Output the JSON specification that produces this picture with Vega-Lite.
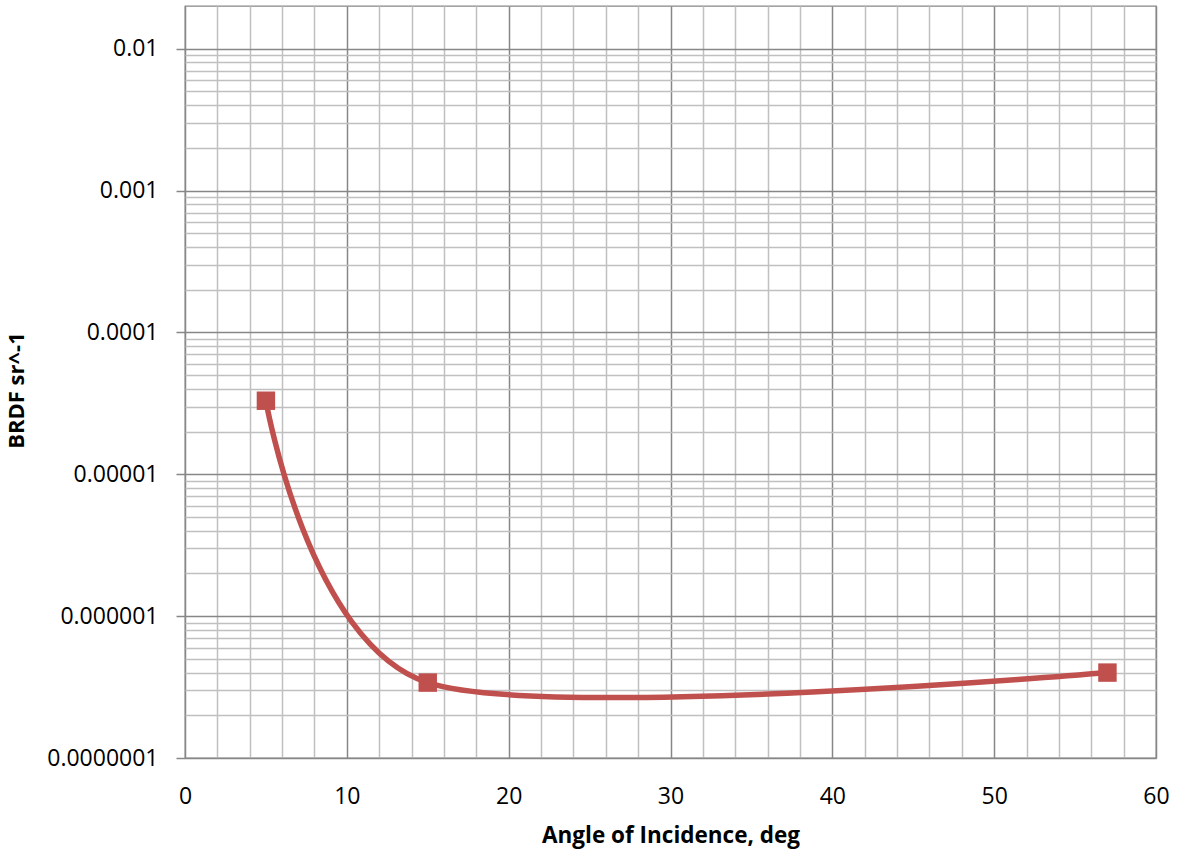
{
  "$schema": "https://vega.github.io/schema/vega-lite/v6.json",
  "width": 971,
  "height": 752,
  "autosize": "none",
  "padding": {"left": 185, "top": 6, "right": 22, "bottom": 94},
  "background": "white",
  "config": {
    "view": {"stroke": "#878787", "strokeWidth": 1.3},
    "font": "Open Sans",
    "axis": {"domain": false, "labelFont": "Open Sans", "titleFont": "Open Sans", "labelColor": "#000000", "titleColor": "#000000", "labelOverlap": false}
  },
  "data": {
    "values": [
      {"angle": 5, "brdf": 3.3e-5},
      {"angle": 15, "brdf": 3.4e-7},
      {"angle": 57, "brdf": 4.0e-7}
    ]
  },
  "layer": [
    {
      "mark": {"type": "line", "interpolate": "cardinal", "tension": 0.15, "color": "#C0504D", "strokeWidth": 5.5},
      "encoding": {
        "x": {
          "field": "angle",
          "type": "quantitative",
          "scale": {"domain": [0, 60], "nice": false, "zero": false},
          "axis": {
            "title": "Angle of Incidence, deg",
            "values": [0,2,4,6,8,10,12,14,16,18,20,22,24,26,28,30,32,34,36,38,40,42,44,46,48,50,52,54,56,58,60],
            "tickCount": 200,
            "format": "d",
            "labelExpr": "datum.value % 10 === 0 ? format(datum.value, 'd') : ''",
            "labelOverlap": false,
            "ticks": false,
            "labelPadding": 27,
            "labelFontSize": 23,
            "labelFlush": false,
            "gridColor": {"condition": {"test": "datum.value % 10 === 0", "value": "#878787"}, "value": "#c0c0c0"},
            "gridWidth": 1.5,
            "titleFontSize": 22.5,
            "titleFontWeight": "bold",
            "titlePadding": 16
          }
        },
        "y": {
          "field": "brdf",
          "type": "quantitative",
          "scale": {"type": "log", "domain": [1e-7, 0.02], "nice": false},
          "axis": {
            "title": "BRDF sr^-1",
            "values": [1e-7,2e-7,3e-7,4e-7,5e-7,6e-7,7e-7,8e-7,9e-7,1e-6,2e-6,3e-6,4e-6,5e-6,6e-6,7e-6,8e-6,9e-6,1e-5,2e-5,3e-5,4e-5,5e-5,6e-5,7e-5,8e-5,9e-5,1e-4,2e-4,3e-4,4e-4,5e-4,6e-4,7e-4,8e-4,9e-4,1e-3,2e-3,3e-3,4e-3,5e-3,6e-3,7e-3,8e-3,9e-3,1e-2],
            "tickCount": 200,
            "labelExpr": "abs(log(datum.value)/LN10 - round(log(datum.value)/LN10)) < 0.001 ? format(datum.value, '.7~f') : ''",
            "labelOverlap": false,
            "tickSize": 9,
            "tickColor": "#878787",
            "tickWidth": 1.5,
            "tickOpacity": {"condition": {"test": "abs(log(datum.value)/LN10 - round(log(datum.value)/LN10)) < 0.001", "value": 1}, "value": 0},
            "gridColor": {"condition": {"test": "abs(log(datum.value)/LN10 - round(log(datum.value)/LN10)) < 0.001", "value": "#878787"}, "value": "#c0c0c0"},
            "gridWidth": 1.5,
            "labelPadding": 18,
            "labelFontSize": 23,
            "labelFlush": false,
            "titleFontSize": 22,
            "titleFontWeight": "bold",
            "titlePadding": 18,
            "titleY": 384
          }
        }
      }
    },
    {
      "mark": {"type": "point", "shape": "square", "filled": true, "color": "#C0504D", "size": 340, "opacity": 1},
      "encoding": {
        "x": {"field": "angle", "type": "quantitative"},
        "y": {"field": "brdf", "type": "quantitative"}
      }
    }
  ]
}
